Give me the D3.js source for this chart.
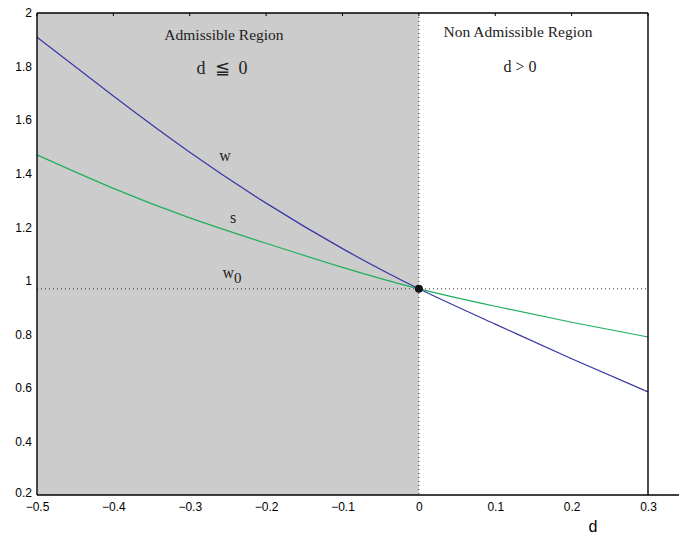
<!DOCTYPE html>
<html>
<head>
<meta charset="utf-8">
<script src="https://cdn.jsdelivr.net/npm/d3@7"></script>
<style>
  body { margin: 0; background: #fff; }
  .note { font-family: "Liberation Serif", "Times New Roman", serif; fill: #222; }
</style>
</head>
<body>
<div id="chart-area"></div>
<script>
// values
const dValues = [-0.5, -0.4, -0.3, -0.2, -0.1, 0, 0.1, 0.2, 0.3];
const wValues = [1.91, 1.69, 1.48, 1.29, 1.12, 0.97, 0.838, 0.709, 0.585];
const sValues = [1.47, 1.345, 1.235, 1.14, 1.05, 0.97, 0.905, 0.845, 0.79];
const w0 = 0.97;
const xTicks = [-0.5, -0.4, -0.3, -0.2, -0.1, 0, 0.1, 0.2, 0.3];
const yTicks = [0.2, 0.4, 0.6, 0.8, 1, 1.2, 1.4, 1.6, 1.8, 2];

let margin = { top: 13, right: 31, bottom: 45, left: 37 },
  width = 679 - margin.left - margin.right,
  height = 540 - margin.top - margin.bottom;

let svg = d3
  .select("#chart-area")
  .append("svg")
  .attr("width", 679)
  .attr("height", 540)
  .append("g")
  .attr("transform", "translate(" + margin.left + "," + margin.top + ")");

let x = d3.scaleLinear().domain([-0.5, 0.3]).range([0, width]);
let y = d3.scaleLinear().domain([0.2, 2]).range([height, 0]);

// admissible region shading
svg.append("rect")
  .attr("x", x(-0.5))
  .attr("y", 0)
  .attr("width", x(0) - x(-0.5))
  .attr("height", height)
  .attr("fill", "#cccccc");

// dotted reference lines
svg.append("line")
  .attr("x1", x(-0.5)).attr("x2", x(0.3))
  .attr("y1", y(w0)).attr("y2", y(w0))
  .attr("stroke", "#333").attr("stroke-width", 1)
  .attr("stroke-dasharray", "1,3");
svg.append("line")
  .attr("x1", x(0)).attr("x2", x(0))
  .attr("y1", 0).attr("y2", height)
  .attr("stroke", "#333").attr("stroke-width", 1)
  .attr("stroke-dasharray", "1,3");

let line = d3.line()
  .x(function(d, i) { return x(dValues[i]); })
  .y(function(d) { return y(d); })
  .curve(d3.curveNatural);

svg.append("path")
  .datum(sValues)
  .attr("fill", "none")
  .attr("stroke", "#1eaf5c")
  .attr("stroke-width", 1.2)
  .attr("d", line);

svg.append("path")
  .datum(wValues)
  .attr("fill", "none")
  .attr("stroke", "#3838a6")
  .attr("stroke-width", 1.2)
  .attr("d", line);

svg.append("circle")
  .attr("cx", x(0))
  .attr("cy", y(w0))
  .attr("r", 4)
  .attr("fill", "#111");

// frame
let frame = svg.append("g").attr("stroke", "#000").attr("stroke-width", 1.4);
frame.append("line").attr("x1", 0).attr("x2", 0).attr("y1", 0).attr("y2", height);
frame.append("line").attr("x1", 0).attr("x2", width).attr("y1", 0).attr("y2", 0);
frame.append("line").attr("x1", width).attr("x2", width).attr("y1", 0).attr("y2", height);
frame.append("line").attr("x1", 0).attr("x2", width + margin.right).attr("y1", height).attr("y2", height);

// axes (labels only, matlab style)
let xAxis = d3.axisBottom(x).tickValues(xTicks).tickSize(0).tickPadding(7)
  .tickFormat(function(d) { return d3.format("")(+d.toFixed(1)).replace("-", "\u2212"); });
let yAxis = d3.axisLeft(y).tickValues(yTicks).tickSize(0).tickPadding(5)
  .tickFormat(function(d) { return +d.toFixed(1); });

let xAxisGroup = svg.append("g").attr("class", "x-axis axis")
  .attr("transform", "translate(0," + height + ")")
  .call(xAxis);
let yAxisGroup = svg.append("g").attr("class", "y-axis axis").call(yAxis);
svg.selectAll(".axis .domain").remove();
svg.selectAll(".axis")
  .attr("font-family", "Liberation Sans, Arial, sans-serif")
  .attr("font-size", 12);
// lift the bottom y label so it clears the x labels
yAxisGroup.selectAll(".tick")
  .filter(function(d) { return d === 0.2; })
  .select("text")
  .attr("dy", "0.1em");

// top ticks pointing inward
svg.selectAll(".top-tick")
  .data(xTicks)
  .enter()
  .append("line")
  .attr("x1", function(d) { return x(d); })
  .attr("x2", function(d) { return x(d); })
  .attr("y1", 0).attr("y2", 3)
  .attr("stroke", "#000");

svg.append("text")
  .attr("x", 556).attr("y", 519)
  .attr("font-family", "Liberation Sans, Arial, sans-serif")
  .attr("font-size", 16)
  .attr("text-anchor", "middle")
  .text("d");

// annotations
function note(tx, ty, size, str) {
  return svg.append("text").attr("class", "note")
    .attr("x", tx).attr("y", ty)
    .attr("font-size", size)
    .attr("text-anchor", "middle")
    .text(str);
}
note(187, 27, 15.5, "Admissible Region");
note(481, 24, 15.5, "Non Admissible Region");
note(185, 61, 18, "d \u00a0\u2266 \u00a00");
note(483, 59, 16, "d > 0");
note(188, 148, 16, "w");
note(196, 210, 16, "s");
let w0t = note(195, 265, 16, "w");
w0t.append("tspan").attr("dy", 5).attr("font-size", 15).text("0");
</script>
</body>
</html>
